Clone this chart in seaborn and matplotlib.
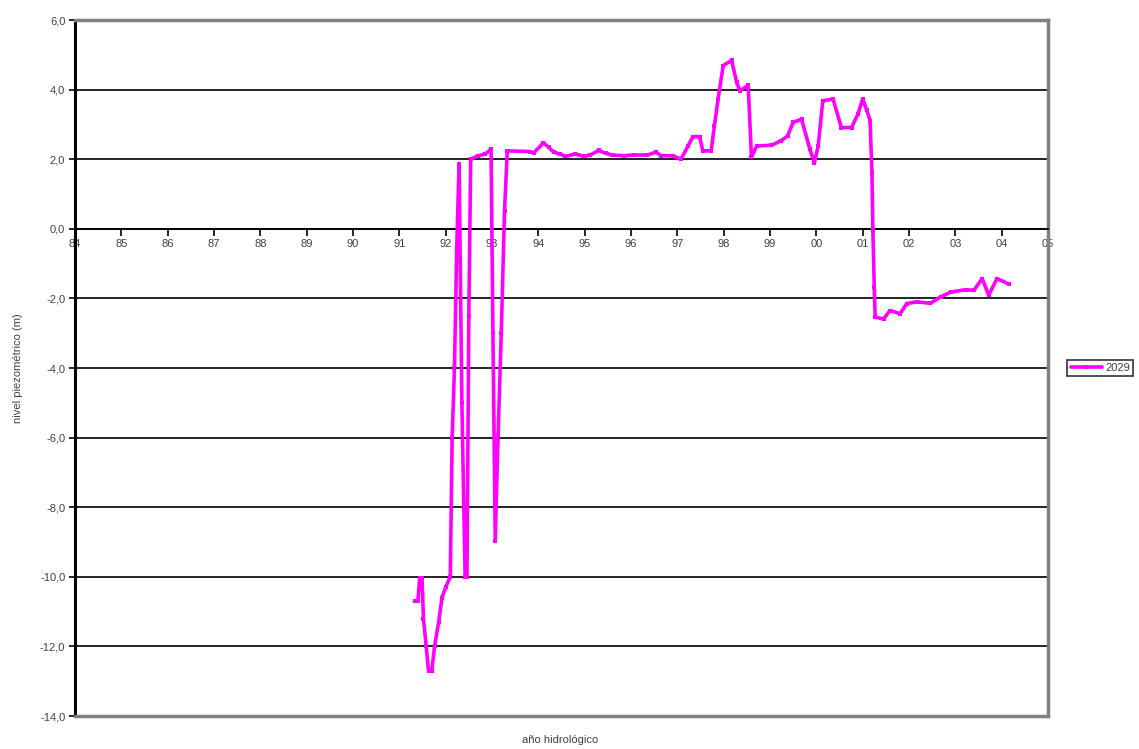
import numpy as np
import pandas as pd
import matplotlib
matplotlib.use("Agg")
import matplotlib.pyplot as plt
import seaborn as sns

# hydrological year (84 = 1984, 100 = 2000 ...) and piezometric level (m)
years = [91.34, 91.40, 91.44, 91.49, 91.52, 91.58, 91.63, 91.70, 91.76, 91.85,
         91.92, 92.00, 92.10, 92.14, 92.19, 92.24, 92.29, 92.35, 92.42, 92.46,
         92.50, 92.54, 92.70, 92.85, 92.98, 93.02, 93.07, 93.13, 93.20, 93.27,
         93.33, 93.82, 93.90, 94.11, 94.22, 94.33, 94.47, 94.58, 94.80, 94.98,
         95.12, 95.30, 95.45, 95.60, 95.85, 96.06, 96.35, 96.54, 96.65, 96.90,
         97.08, 97.23, 97.34, 97.48, 97.55, 97.73, 97.80, 97.88, 97.99, 98.17,
         98.28, 98.35, 98.53, 98.60, 98.71, 99.03, 99.24, 99.38, 99.50, 99.68,
         99.86, 99.96, 100.04, 100.14, 100.36, 100.54, 100.76, 100.90, 101.00, 101.09,
         101.16, 101.20, 101.22, 101.25, 101.27, 101.45, 101.59, 101.81, 101.95, 102.17,
         102.46, 102.68, 102.90, 103.22, 103.40, 103.58, 103.72, 103.90, 104.16]
nivel = [-10.7, -10.7, -10.04, -10.04, -11.2, -12.0, -12.7, -12.7, -12.0, -11.3,
         -10.6, -10.3, -10.0, -6.0, -4.0, -0.5, 1.87, -5.0, -10.0, -10.0,
         -2.5, 2.0, 2.1, 2.15, 2.28, -3.0, -8.96, -6.0, -3.0, 0.5,
         2.24, 2.22, 2.18, 2.47, 2.35, 2.2, 2.15, 2.08, 2.15, 2.08,
         2.12, 2.25, 2.17, 2.12, 2.1, 2.12, 2.12, 2.2, 2.1, 2.1,
         2.0, 2.38, 2.65, 2.65, 2.24, 2.24, 2.96, 3.73, 4.69, 4.84,
         4.21, 3.97, 4.12, 2.05, 2.38, 2.4, 2.53, 2.67, 3.06, 3.15,
         2.29, 1.9, 2.38, 3.68, 3.73, 2.91, 2.91, 3.3, 3.73, 3.4,
         3.11, 1.6, -0.03, -1.67, -2.54, -2.59, -2.35, -2.44, -2.15, -2.1,
         -2.14, -1.96, -1.82, -1.75, -1.77, -1.43, -1.91, -1.43, -1.59]

x_ticks = list(range(84, 106))
x_labels = [f"{t % 100:02d}" for t in x_ticks]
y_ticks = list(range(-14, 7, 2))
y_labels = [f"{t:.1f}".replace(".", ",") for t in y_ticks]

df = pd.DataFrame({"año": years, "nivel": nivel})

sns.set_theme(style="white")
plt.rcParams["font.family"] = ["Liberation Sans", "DejaVu Sans"]

fig = plt.figure(figsize=(11.39, 7.49), dpi=100)
ax = fig.add_axes([75 / 1139, 1 - 716 / 749, (1048 - 75) / 1139, (716 - 20) / 749])

sns.lineplot(data=df, x="año", y="nivel", ax=ax, color="#ff00ff", lw=2.6,
             marker="s", markersize=3.5, markeredgewidth=0, label="2029",
             sort=False, zorder=3)

ax.set_xlim(84, 105)
ax.set_ylim(-14, 6)
ax.set_yticks(y_ticks)
ax.set_yticklabels(y_labels)
ax.set_xticks(x_ticks)
ax.set_xticklabels(x_labels)

# black gridlines at every 2 m
for t in y_ticks[1:-1]:
    ax.axhline(t, color="black", lw=1.2, zorder=1)

# x axis crosses at 0, frame grey
ax.spines["bottom"].set_position(("data", 0))
ax.spines["bottom"].set_color("black")
ax.spines["bottom"].set_linewidth(1.3)
ax.spines["left"].set_color("black")
ax.spines["left"].set_linewidth(2.2)
for s in ["top", "right"]:
    ax.spines[s].set_color("#808080")
    ax.spines[s].set_linewidth(2.5)
ax.axhline(-14, color="#808080", lw=2.5, clip_on=False, zorder=4)

ax.tick_params(axis="x", direction="out", length=5, width=1.2, color="black",
               labelsize=8, labelcolor="#404040", pad=2, bottom=True)
ax.tick_params(axis="y", direction="out", length=4, width=1.2, color="black",
               labelsize=8, labelcolor="#404040", pad=3, left=True)

ax.set_xlabel("")
ax.set_ylabel("nivel piezométrico (m)", fontsize=8, color="#404040", labelpad=12)
fig.text(560 / 1139, 1 - 740 / 749, "año hidrológico", ha="center", va="center",
         fontsize=8, color="#404040")

leg = ax.legend(loc="center left", bbox_to_anchor=(1.02, 0.5), frameon=True,
                fontsize=8, handlelength=2.8, borderpad=0.3, fancybox=False,
                handletextpad=0.3, borderaxespad=0)
leg.get_frame().set_edgecolor("black")
leg.get_frame().set_linewidth(1.2)
for t in leg.get_texts():
    t.set_color("#404040")

fig.savefig("out.png", dpi=100)
